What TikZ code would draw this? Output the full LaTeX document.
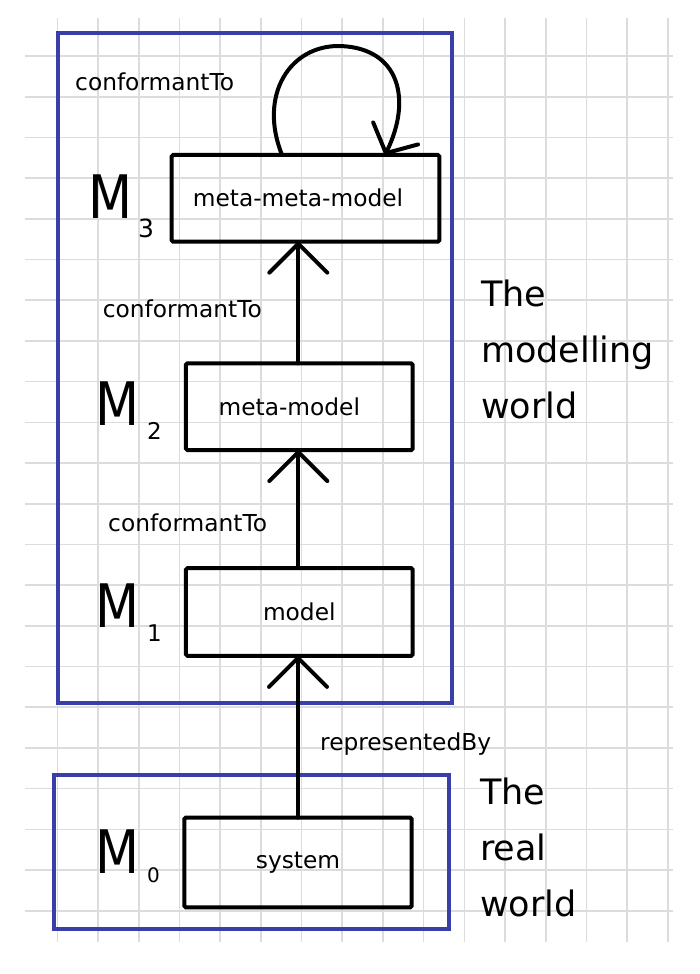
\documentclass[tikz,border=0pt]{standalone}
\usepackage{fontspec}
\usepackage{graphicx}
\setmainfont{DejaVu Sans}
\usetikzlibrary{arrows.meta}
\definecolor{gridgray}{RGB}{220,220,220}
\definecolor{worldblue}{RGB}{58,62,168}
\begin{document}
\begin{tikzpicture}[x=1pt,y=-1pt,
  gridline/.style={draw=gridgray,line width=1.6pt},
  world/.style={draw=worldblue,line width=3.5pt,rectangle,inner sep=0pt,outer sep=0pt},
  level/.style={draw=black,line width=4pt,rectangle,rounded corners=1.5pt,inner sep=0pt,outer sep=0pt,
     font=\fontsize{23.3}{28}\selectfont},
  rel/.style={line width=4pt,line cap=round,-{Straight Barb[length=29pt,width=58pt,round]}},
  selfrel/.style={line width=4pt,line cap=round,-{Straight Barb[length=22pt,width=50pt,round]}},
  lbl/.style={font=\fontsize{23.3}{28}\selectfont,inner sep=0pt,anchor=base west},
  big/.style={font=\fontsize{35}{56}\selectfont,inner sep=0pt,anchor=base west,align=left},
  mlabel/.style={inner sep=0pt,anchor=base west}
]
\useasboundingbox (0,0) rectangle (700,974);
\fill[white] (0,0) rectangle (700,974);
% grid
\foreach \i in {0,...,21} \draw[gridline] (25,{56+40.7*\i}) -- (673,{56+40.7*\i});
\foreach \i in {0,...,15} \draw[gridline] ({57.3+40.7*\i},18) -- ({57.3+40.7*\i},942);
% worlds
\node[world,minimum width=394pt,minimum height=670pt] (modw) at (255,368) {};
\node[world,minimum width=395pt,minimum height=154pt] (realw) at (251.5,852) {};
% level boxes
\node[level,minimum width=267.6pt,minimum height=86.7pt,label={[inner sep=0pt,xshift=-7.5pt,font=\fontsize{23.3}{28}\selectfont]center:meta-meta-model}] (mmm) at (305.5,198.3) {};
\node[level,minimum width=226.7pt,minimum height=86.7pt,label={[inner sep=0pt,xshift=-10pt,font=\fontsize{23.3}{28}\selectfont]center:meta-model}] (mm) at (299.3,406.7) {};
\node[level,minimum width=226.7pt,minimum height=87.7pt] (m) at (299.3,612) {model};
\node[level,minimum width=227.4pt,minimum height=89.6pt] (sys) at (298,862.5) {system};
% arrows
\draw[rel] (sys.north) -- (sys.north |- m.south);
\draw[rel] ([xshift=-1pt]m.north) -- ([xshift=-1pt]m.north |- mm.south);
\draw[rel] ([xshift=-1pt]mm.north) -- ([xshift=-1pt]mm.north |- mmm.south);
\coordinate (ls) at ([xshift=-23.5pt]mmm.north);
\coordinate (le) at ([xshift=79.5pt]mmm.north);
\draw[selfrel] (ls) .. controls (258,95) and (290,45) .. (340,46) .. controls (400,48) and (412,100) .. (le);
% relation labels
\node[lbl] (c1) at (75,90.7) {conformantTo};
\node[lbl] (c2) at (102.7,317.7) {conformantTo};
\node[lbl] (c3) at (108,531.7) {conformantTo};
\node[lbl] (rb) at (320,750) {representedBy};
% level names
\node[mlabel] (M3) at (88,218) {\scalebox{0.85}[1]{\fontsize{60}{60}\selectfont M}\hspace{6pt}\raisebox{-19pt}{\fontsize{25}{25}\selectfont 3}};
\node[mlabel] (M2) at (95,425) {\scalebox{0.85}[1]{\fontsize{60}{60}\selectfont M}\hspace{8pt}\raisebox{-14pt}{\fontsize{23}{23}\selectfont 2}};
\node[mlabel] (M1) at (95,627) {\scalebox{0.85}[1]{\fontsize{60}{60}\selectfont M}\hspace{8pt}\raisebox{-14pt}{\fontsize{23}{23}\selectfont 1}};
\node[mlabel] (M0) at (95,873) {\scalebox{0.85}[1]{\fontsize{60}{60}\selectfont M}\hspace{8pt}\raisebox{-9pt}{\fontsize{20}{20}\selectfont 0}};
% world names (base anchor = last line)
\node[big] (tmw) at (481,418.3) {The\\modelling\\world};
\node[big] (trw) at (480,916.7) {The\\real\\world};
\end{tikzpicture}
\end{document}
